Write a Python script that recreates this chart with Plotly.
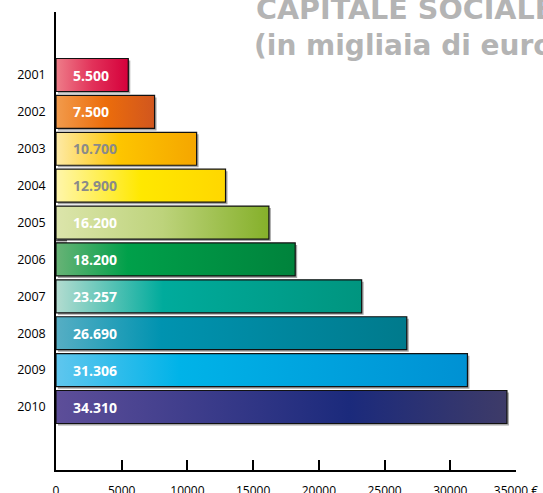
import plotly.graph_objects as go

# ---- data ----
years = ["2001", "2002", "2003", "2004", "2005", "2006", "2007", "2008", "2009", "2010"]
values = [5500, 7500, 10700, 12900, 16200, 18200, 23257, 26690, 31306, 34310]
value_labels = ["5.500", "7.500", "10.700", "12.900", "16.200", "18.200", "23.257", "26.690", "31.306", "34.310"]
x_tick_values = [0, 5000, 10000, 15000, 20000, 25000, 30000, 35000]
x_tick_labels = ["0", "5000", "10000", "15000", "20000", "25000", "30000", "35000 €"]
title_line1 = "CAPITALE SOCIALE"
title_line2 = "(in migliaia di euro)"

# ---- styles ----
gradients = [
    [[0, "#ee7d89"], [0.5, "#e2325a"], [1, "#d5003b"]],
    [[0, "#f29b4c"], [0.5, "#ec6d0b"], [1, "#d1561e"]],
    [[0, "#feeaa6"], [0.45, "#fdc500"], [1, "#f5a600"]],
    [[0, "#fff6ab"], [0.5, "#ffe800"], [1, "#ffd700"]],
    [[0, "#dce5ab"], [0.5, "#bdd37b"], [1, "#85b02a"]],
    [[0, "#68b376"], [0.3, "#00a04a"], [1, "#00833c"]],
    [[0, "#b3dcd0"], [0.35, "#00ab9c"], [1, "#00957f"]],
    [[0, "#56aec4"], [0.3, "#0093b0"], [1, "#007a8c"]],
    [[0, "#5fc6ee"], [0.3, "#00b3e8"], [1, "#0091d3"]],
    [[0, "#5d4e99"], [0.65, "#1b2a7c"], [1, "#3e3b68"]],
]
label_colors = ["white", "white", "#8a8a8a", "#8a8a8a", "white", "white", "white", "white", "white", "white"]
half_h = 0.447
shadow_dx = 150
shadow_dy = 0.055

L, R, T, B = 56, 27, 12, 23
W, H = 543, 493
plot_w = W - L - R
plot_h = H - T - B

fig = go.Figure()

for i, v in enumerate(values):
    # shadow
    fig.add_trace(go.Scatter(
        x=[shadow_dx, v + shadow_dx, v + shadow_dx, shadow_dx, shadow_dx],
        y=[i - half_h + shadow_dy, i - half_h + shadow_dy, i + half_h + shadow_dy,
           i + half_h + shadow_dy, i - half_h + shadow_dy],
        mode="lines", fill="toself", fillcolor="#a6a6a6",
        line=dict(width=0, color="#a6a6a6"), hoverinfo="skip", showlegend=False))
    # bar with gradient
    fig.add_trace(go.Scatter(
        x=[0, v, v, 0, 0],
        y=[i - half_h, i - half_h, i + half_h, i + half_h, i - half_h],
        mode="lines", fill="toself",
        fillgradient=dict(type="horizontal", colorscale=gradients[i]),
        line=dict(width=1.2, color="#111111"), name=years[i], showlegend=False))

annotations = []
for i, lab in enumerate(value_labels):
    annotations.append(dict(
        x=0, y=i, xref="x", yref="y", text=lab, showarrow=False,
        xanchor="left", yanchor="middle", xshift=15,
        font=dict(family="Open Sans", size=14, color=label_colors[i], weight="bold")))

def px_to_paper_x(px):
    return (px - L) / plot_w

def px_to_paper_y(py):
    return (H - B - py) / plot_h

annotations.append(dict(
    x=px_to_paper_x(254), y=px_to_paper_y(9), xref="paper", yref="paper",
    text=title_line1, showarrow=False, xanchor="left", yanchor="middle",
    font=dict(family="DejaVu Sans", size=28.6, color="#b4b4b4", weight="bold")))
annotations.append(dict(
    x=px_to_paper_x(252), y=px_to_paper_y(45), xref="paper", yref="paper",
    text=title_line2, showarrow=False, xanchor="left", yanchor="middle",
    font=dict(family="DejaVu Sans", size=28, color="#b4b4b4", weight="bold")))

shapes = [
    dict(type="line", xref="x", yref="y", x0=0, x1=840, y0=4.49, y1=4.49,
         line=dict(color="#333333", width=1)),
    dict(type="line", xref="x", yref="y", x0=0, x1=840, y0=4.535, y1=4.535,
         line=dict(color="#333333", width=1)),
]

fig.update_layout(
    width=W, height=H,
    margin=dict(l=L, r=R, t=T, b=B, pad=0, autoexpand=False),
    paper_bgcolor="white", plot_bgcolor="white",
    showlegend=False,
    annotations=annotations,
    shapes=shapes,
    xaxis=dict(
        range=[0, 35000], tickvals=x_tick_values, ticktext=x_tick_labels,
        ticks="inside", ticklen=10, tickwidth=1.5, tickcolor="black",
        showline=True, linecolor="black", linewidth=1.5, automargin=False,
        showgrid=False, zeroline=False, ticklabelstandoff=9,
        tickfont=dict(family="Open Sans", size=12, color="black"),
    ),
    yaxis=dict(
        range=[10.708, -1.708], tickvals=list(range(len(years))), ticktext=years,
        ticks="", showline=True, linecolor="black", linewidth=1.5, automargin=False,
        showgrid=False, zeroline=False, ticklabelstandoff=6,
        tickfont=dict(family="Open Sans", size=12.5, color="black"),
    ),
)

fig.write_html(
    "out.html",
    config={"displayModeBar": False},
    post_script="document.body.style.margin='0';document.body.style.overflow='hidden';",
)
